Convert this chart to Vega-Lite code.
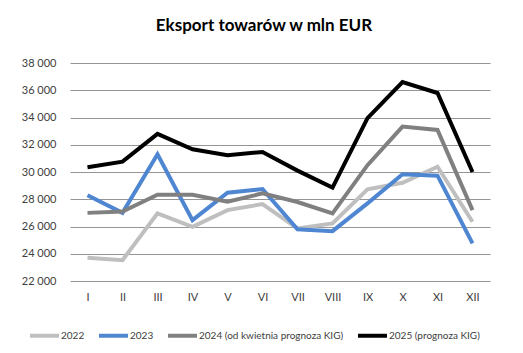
{
  "$schema": "https://vega.github.io/schema/vega-lite/v6.json",
  "autosize": {"type": "none"},
  "padding": {"left": 70, "top": 63, "right": 33, "bottom": 72},
  "width": 420,
  "height": 218,
  "background": "white",
  "title": {"text": "Eksport towarów w mln EUR", "font": "Lato", "fontSize": 17, "fontWeight": "bold", "color": "#000000", "offset": 22, "dx": -16, "anchor": "middle"},
  "data": {"values": [
    {"m": "I", "s": "2022", "v": 23700}, {"m": "II", "s": "2022", "v": 23530}, {"m": "III", "s": "2022", "v": 26960}, {"m": "IV", "s": "2022", "v": 25980}, {"m": "V", "s": "2022", "v": 27200}, {"m": "VI", "s": "2022", "v": 27650}, {"m": "VII", "s": "2022", "v": 25860}, {"m": "VIII", "s": "2022", "v": 26230}, {"m": "IX", "s": "2022", "v": 28730}, {"m": "X", "s": "2022", "v": 29210}, {"m": "XI", "s": "2022", "v": 30390}, {"m": "XII", "s": "2022", "v": 26350},
    {"m": "I", "s": "2023", "v": 28300}, {"m": "II", "s": "2023", "v": 27000}, {"m": "III", "s": "2023", "v": 31300}, {"m": "IV", "s": "2023", "v": 26470}, {"m": "V", "s": "2023", "v": 28480}, {"m": "VI", "s": "2023", "v": 28750}, {"m": "VII", "s": "2023", "v": 25790}, {"m": "VIII", "s": "2023", "v": 25660}, {"m": "IX", "s": "2023", "v": 27700}, {"m": "X", "s": "2023", "v": 29830}, {"m": "XI", "s": "2023", "v": 29730}, {"m": "XII", "s": "2023", "v": 24760},
    {"m": "I", "s": "2024 (od kwietnia prognoza KIG)", "v": 27000}, {"m": "II", "s": "2024 (od kwietnia prognoza KIG)", "v": 27100}, {"m": "III", "s": "2024 (od kwietnia prognoza KIG)", "v": 28330}, {"m": "IV", "s": "2024 (od kwietnia prognoza KIG)", "v": 28330}, {"m": "V", "s": "2024 (od kwietnia prognoza KIG)", "v": 27820}, {"m": "VI", "s": "2024 (od kwietnia prognoza KIG)", "v": 28430}, {"m": "VII", "s": "2024 (od kwietnia prognoza KIG)", "v": 27800}, {"m": "VIII", "s": "2024 (od kwietnia prognoza KIG)", "v": 26960}, {"m": "IX", "s": "2024 (od kwietnia prognoza KIG)", "v": 30500}, {"m": "X", "s": "2024 (od kwietnia prognoza KIG)", "v": 33330}, {"m": "XI", "s": "2024 (od kwietnia prognoza KIG)", "v": 33090}, {"m": "XII", "s": "2024 (od kwietnia prognoza KIG)", "v": 27200},
    {"m": "I", "s": "2025 (prognoza KIG)", "v": 30350}, {"m": "II", "s": "2025 (prognoza KIG)", "v": 30760}, {"m": "III", "s": "2025 (prognoza KIG)", "v": 32800}, {"m": "IV", "s": "2025 (prognoza KIG)", "v": 31670}, {"m": "V", "s": "2025 (prognoza KIG)", "v": 31230}, {"m": "VI", "s": "2025 (prognoza KIG)", "v": 31470}, {"m": "VII", "s": "2025 (prognoza KIG)", "v": 30100}, {"m": "VIII", "s": "2025 (prognoza KIG)", "v": 28850}, {"m": "IX", "s": "2025 (prognoza KIG)", "v": 33950}, {"m": "X", "s": "2025 (prognoza KIG)", "v": 36600}, {"m": "XI", "s": "2025 (prognoza KIG)", "v": 35800}, {"m": "XII", "s": "2025 (prognoza KIG)", "v": 30000}
  ]},
  "mark": {"type": "line", "strokeCap": "butt", "strokeJoin": "miter"},
  "encoding": {
    "x": {"field": "m", "type": "ordinal", "sort": ["I","II","III","IV","V","VI","VII","VIII","IX","X","XI","XII"],
      "scale": {"type": "point", "padding": 0.5},
      "axis": {"title": null, "labelAngle": 0, "domain": false, "ticks": false, "grid": false, "labelFont": "Lato", "labelFontSize": 11, "labelColor": "#404040", "labelPadding": 10}},
    "y": {"field": "v", "type": "quantitative",
      "scale": {"domain": [22000, 38000], "nice": false, "zero": false},
      "axis": {"title": null, "values": [22000,24000,26000,28000,30000,32000,34000,36000,38000], "format": ",d", "domain": false, "ticks": false, "grid": true, "gridColor": "#959595", "gridWidth": 1, "labelFont": "Lato", "labelFontSize": 11, "labelColor": "#404040", "labelPadding": 14}},
    "color": {"field": "s", "type": "nominal",
      "scale": {"domain": ["2022","2023","2024 (od kwietnia prognoza KIG)","2025 (prognoza KIG)"], "range": ["#bfbfbf","#4f86d1","#808080","#000000"]},
      "legend": {"title": null, "orient": "none", "legendX": -42, "legendY": 256, "direction": "horizontal", "symbolType": "stroke", "symbolSize": 841, "symbolStrokeWidth": 4, "labelFont": "Lato", "labelFontSize": 10, "labelColor": "#404040", "columnPadding": 6, "labelOffset": 0, "labelLimit": 300}},
    "strokeWidth": {"field": "s", "type": "nominal",
      "scale": {"domain": ["2022","2023","2024 (od kwietnia prognoza KIG)","2025 (prognoza KIG)"], "range": [4, 4, 4, 2.8]},
      "legend": null}
  },
  "config": {"locale": {"number": {"decimal": ",", "thousands": " ", "grouping": [3], "currency": ["", " zł"]}}, "view": {"stroke": null}}
}
